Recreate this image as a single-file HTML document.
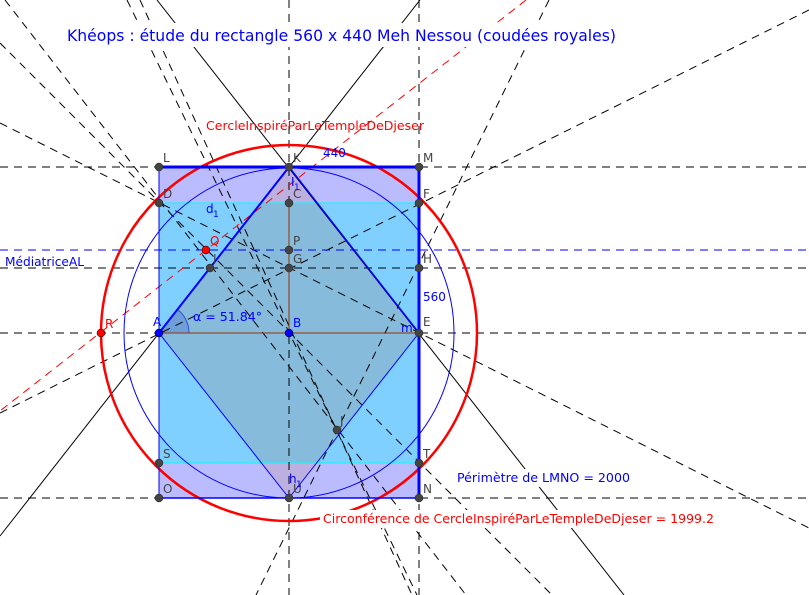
<!DOCTYPE html>
<html><head><meta charset="utf-8"><style>
html,body{margin:0;padding:0;background:#fff;}
svg{display:block;font-family:"DejaVu Sans","Liberation Sans",sans-serif;}
</style></head><body>
<svg width="809" height="595" viewBox="0 0 809 595" xmlns="http://www.w3.org/2000/svg">
<defs>
<clipPath id="mid"><rect x="159" y="203" width="260" height="260"/></clipPath>
<clipPath id="bands"><rect x="159" y="167" width="260" height="36"/><rect x="159" y="463" width="260" height="35"/></clipPath>
</defs>
<rect x="159" y="203" width="260" height="260" fill="#80d0ff"/>
<rect x="159" y="167" width="260" height="36" fill="#bbbbff"/>
<rect x="159" y="463" width="260" height="35" fill="#bbbbff"/>
<polygon points="159,333 289,167 419,333 289,498" fill="#86bbdc" clip-path="url(#mid)"/>
<polygon points="159,333 289,167 419,333 289,498" fill="#bbb0e0" clip-path="url(#bands)"/>
<line x1="159" y1="203" x2="419" y2="203" stroke="#00ffff" stroke-width="1"/>
<line x1="159" y1="463" x2="419" y2="463" stroke="#00ffff" stroke-width="1"/>
<path d="M159,333 L189,333 A30,30 0 0 0 177.5,309.4 Z" fill="#6e9fd8" stroke="#3050d0" stroke-width="1"/>

<g stroke="#000" stroke-width="1" stroke-dasharray="8,6" fill="none">
<line x1="0" y1="167" x2="809" y2="167"/>
<line x1="0" y1="268" x2="809" y2="268"/>
<line x1="0" y1="333" x2="809" y2="333"/>
<line x1="0" y1="498" x2="809" y2="498"/>
<line x1="289" y1="0" x2="289" y2="595"/>
<line x1="419" y1="0" x2="419" y2="595"/>
<line x1="5" y1="0" x2="466" y2="595"/>
<line x1="0" y1="43" x2="552" y2="595"/>
<line x1="0" y1="123" x2="809" y2="528"/>
<line x1="0" y1="413" x2="809" y2="10"/>
<line x1="127" y1="0" x2="417" y2="595"/>
<line x1="140" y1="0" x2="412" y2="595"/>
<line x1="549" y1="0" x2="256" y2="595"/>
</g>
<line x1="0" y1="250" x2="809" y2="250" stroke="#0000ff" stroke-width="1" stroke-dasharray="8,6"/>
<line x1="526" y1="0" x2="0" y2="411" stroke="#ff0000" stroke-width="1" stroke-dasharray="8,6"/>
<line x1="157" y1="0" x2="624" y2="595" stroke="#000" stroke-width="1"/>
<line x1="420" y1="0" x2="0" y2="536" stroke="#000" stroke-width="1"/>

<circle cx="289" cy="333" r="165" fill="none" stroke="#0000ff" stroke-width="1"/>
<circle cx="289" cy="333" r="188" fill="none" stroke="#ff0000" stroke-width="2.5"/>

<line x1="159" y1="167" x2="419" y2="167" stroke="#0000ff" stroke-width="3"/>
<line x1="419" y1="167" x2="419" y2="498" stroke="#0000ff" stroke-width="3"/>
<line x1="159" y1="167" x2="159" y2="498" stroke="#0000ff" stroke-width="1"/>
<line x1="159" y1="498" x2="419" y2="498" stroke="#0000ff" stroke-width="1.5"/>
<line x1="159" y1="333" x2="419" y2="333" stroke="#993300" stroke-width="1"/>
<line x1="289" y1="203" x2="289" y2="333" stroke="#993300" stroke-width="1"/>
<line x1="159" y1="333" x2="289" y2="167" stroke="#0000ff" stroke-width="2"/>
<line x1="289" y1="167" x2="419" y2="333" stroke="#0000ff" stroke-width="1.5"/>
<line x1="159" y1="333" x2="289" y2="498" stroke="#0000ff" stroke-width="1"/>
<line x1="289" y1="498" x2="419" y2="333" stroke="#0000ff" stroke-width="1"/>

<g fill="#444" stroke="#222" stroke-width="0.5">
<circle cx="159" cy="167" r="4"/><circle cx="289" cy="167" r="4"/><circle cx="419" cy="167" r="4"/>
<circle cx="159" cy="203" r="4"/><circle cx="289" cy="203" r="4"/><circle cx="419" cy="203" r="4"/>
<circle cx="289" cy="250" r="4"/><circle cx="289" cy="268" r="4"/><circle cx="419" cy="268" r="4"/>
<circle cx="210" cy="268" r="4"/><circle cx="419" cy="333" r="4"/>
<circle cx="337" cy="430" r="4"/>
<circle cx="159" cy="463" r="4"/><circle cx="419" cy="463" r="4"/>
<circle cx="159" cy="498" r="4"/><circle cx="289" cy="498" r="4"/><circle cx="419" cy="498" r="4"/>
</g>
<circle cx="159" cy="333" r="4" fill="#0000ff" stroke="#000" stroke-width="0.5"/>
<circle cx="289" cy="333" r="4" fill="#0000ff" stroke="#000" stroke-width="0.5"/>
<circle cx="206" cy="250" r="4" fill="#ff0000" stroke="#000" stroke-width="0.5"/>
<circle cx="101" cy="333" r="4" fill="#ff0000" stroke="#000" stroke-width="0.5"/>

<!-- label backgrounds -->
<rect x="64" y="23" width="556" height="24" fill="#fff"/>
<rect x="320" y="510" width="397" height="18" fill="#fff"/>
<rect x="454" y="469" width="179" height="18" fill="#fff"/>

<g fill="#444" font-size="12">
<text x="163" y="162">L</text><text x="293" y="162">K</text><text x="423" y="162">M</text>
<text x="163" y="198">D</text><text x="293" y="198">C</text><text x="423" y="198">F</text>
<text x="293" y="245">P</text><text x="293" y="263">G</text><text x="423" y="263">H</text>
<text x="213" y="263">I</text><text x="340" y="425">J</text>
<text x="423" y="326">E</text>
<text x="163" y="458">S</text><text x="423" y="458">T</text>
<text x="163" y="493">O</text><text x="293" y="493">U</text><text x="423" y="493">N</text>
</g>
<g fill="#0000ff" font-size="12">
<text x="153" y="326">A</text><text x="293" y="327">B</text>
<text x="206" y="213">d</text><text x="213" y="217" font-size="9">1</text>
<text x="291" y="186">I</text><text x="294" y="190" font-size="9">1</text>
<text x="289" y="483">h</text><text x="296" y="487" font-size="9">1</text>
<text x="401" y="332">m</text>
<text x="193" y="321" textLength="69" lengthAdjust="spacingAndGlyphs">α = 51.84°</text>
<text x="323" y="157">440</text>
<text x="423" y="301">560</text>
<text x="5" y="266" textLength="79" lengthAdjust="spacingAndGlyphs">MédiatriceAL</text>
<text x="457" y="482" textLength="173" lengthAdjust="spacingAndGlyphs">Périmètre de  LMNO = 2000</text>
<text x="67" y="41" font-size="16" textLength="549" lengthAdjust="spacingAndGlyphs">Khéops : étude du rectangle 560 x 440 Meh Nessou (coudées royales)</text>
</g>
<g fill="#ff0000" font-size="12">
<text x="210" y="245">Q</text><text x="105" y="328">R</text>
<text x="206" y="130" textLength="218" lengthAdjust="spacingAndGlyphs">CercleInspiréParLeTempleDeDjeser</text>
<text x="323" y="523" textLength="391" lengthAdjust="spacingAndGlyphs">Circonférence de CercleInspiréParLeTempleDeDjeser = 1999.2</text>
</g>
</svg>
</body></html>
